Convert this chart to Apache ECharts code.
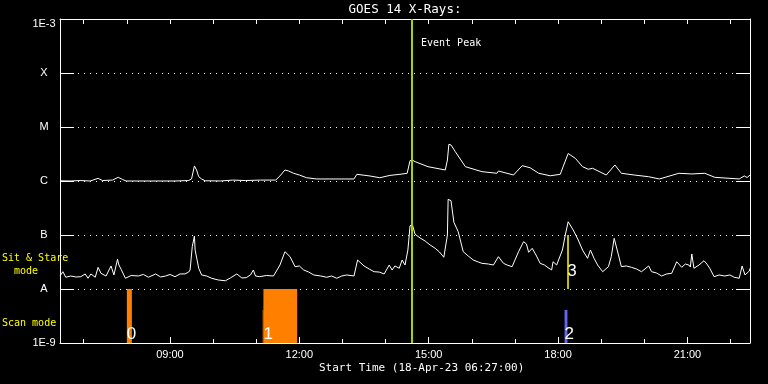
<!DOCTYPE html>
<html><head><meta charset="utf-8">
<script src="https://cdn.jsdelivr.net/npm/echarts@6/dist/echarts.min.js"></script>
<style>html,body{margin:0;padding:0;background:#000}#c{width:768px;height:384px}</style>
</head><body><div id="c"></div>
<script>
// ---------- data ----------
const START_TIME = '06:27';
const END_TIME = '22:27';
const TITLE = 'GOES 14 X-Rays:';
const X_TITLE = 'Start Time (18-Apr-23 06:27:00)';
const MAJOR_HOURS = [9, 12, 15, 18, 21];
const MINOR_HOURS = [7, 8, 10, 11, 13, 14, 16, 17, 19, 20, 22];
const Y_MIN = 1e-9, Y_MAX = 1e-3;
const Y_LABELS = {'-3': '1E-3', '-4': 'X', '-5': 'M', '-6': 'C', '-7': 'B', '-8': 'A', '-9': '1E-9'};

// GOES long channel (1-8 A)
const LONG_CHANNEL = [
 ['06:27',1.01e-6],['06:41',1.00e-6],['06:55',1.02e-6],['07:09',1.00e-6],['07:20',1.12e-6],['07:26',1.02e-6],
 ['07:40',1.04e-6],['07:48',1.17e-6],['07:54',1.07e-6],['07:59',1.00e-6],['08:33',1.00e-6],['09:07',1.00e-6],
 ['09:26',1.02e-6],['09:30',1.09e-6],['09:34',1.90e-6],['09:37',1.60e-6],['09:40',1.20e-6],['09:44',1.09e-6],
 ['09:49',1.01e-6],['10:10',1.00e-6],['10:27',1.04e-6],['10:45',1.02e-6],['11:06',1.04e-6],['11:27',1.04e-6],
 ['11:33',1.24e-6],['11:40',1.60e-6],['11:45',1.53e-6],['11:52',1.39e-6],['12:00',1.29e-6],['12:10',1.15e-6],
 ['12:24',1.09e-6],['12:51',1.09e-6],['13:16',1.09e-6],['13:20',1.33e-6],['13:38',1.24e-6],['13:52',1.15e-6],
 ['14:06',1.27e-6],['14:20',1.33e-6],['14:30',1.39e-6],['14:34',2.38e-6],['14:37',2.45e-6],['14:41',2.28e-6],
 ['14:59',1.84e-6],['15:23',1.60e-6],['15:26',2.45e-6],['15:28',4.78e-6],['15:31',4.64e-6],['15:37',3.49e-6],
 ['15:51',1.84e-6],['16:14',1.49e-6],['16:35',1.39e-6],['16:37',1.53e-6],['16:58',1.29e-6],['17:10',1.92e-6],
 ['17:21',1.76e-6],['17:33',1.39e-6],['17:49',1.25e-6],['18:03',1.33e-6],['18:07',1.84e-6],['18:14',3.23e-6],
 ['18:24',2.63e-6],['18:34',1.84e-6],['18:42',1.65e-6],['18:48',1.72e-6],['19:07',1.29e-6],['19:19',1.98e-6],
 ['19:28',1.39e-6],['19:46',1.29e-6],['20:06',1.20e-6],['20:21',1.09e-6],['20:48',1.39e-6],['21:06',1.35e-6],
 ['21:24',1.39e-6],['21:38',1.17e-6],['22:12',1.09e-6],['22:19',1.24e-6],['22:23',1.16e-6],['22:27',1.29e-6]
];

// GOES short channel (0.5-4 A)
const SHORT_CHANNEL = [
 ['06:27',1.74e-8],['06:28',1.82e-8],['06:31',2.09e-8],['06:35',1.65e-8],['06:42',1.74e-8],['06:49',1.67e-8],
 ['06:56',1.69e-8],['07:02',1.90e-8],['07:06',1.58e-8],['07:10',1.90e-8],['07:16',1.65e-8],['07:20',2.52e-8],
 ['07:24',1.95e-8],['07:31',1.74e-8],['07:38',2.67e-8],['07:42',1.82e-8],['07:47',3.55e-8],['07:49',2.78e-8],
 ['07:52',2.32e-8],['07:58',1.58e-8],['08:06',1.78e-8],['08:16',1.74e-8],['08:23',1.86e-8],['08:30',1.65e-8],
 ['08:40',1.90e-8],['08:47',1.67e-8],['08:54',1.74e-8],['09:00',1.86e-8],['09:07',1.69e-8],['09:14',1.90e-8],
 ['09:21',1.90e-8],['09:26',2.06e-8],['09:28',2.25e-8],['09:31',6.07e-8],['09:34',9.57e-8],['09:35',5.27e-8],
 ['09:40',2.42e-8],['09:44',1.82e-8],['09:51',1.74e-8],['09:58',1.58e-8],['10:07',1.47e-8],['10:17',1.42e-8],
 ['10:24',1.60e-8],['10:33',1.90e-8],['10:40',1.60e-8],['10:46',1.62e-8],['10:52',1.82e-8],['10:56',2.25e-8],
 ['10:59',1.74e-8],['11:05',1.69e-8],['11:14',1.78e-8],['11:24',1.74e-8],['11:33',2.78e-8],['11:40',4.91e-8],
 ['11:47',3.97e-8],['11:54',2.59e-8],['12:00',2.67e-8],['12:06',2.25e-8],['12:13',2.06e-8],['12:20',1.82e-8],
 ['12:30',1.74e-8],['12:38',1.65e-8],['12:45',1.74e-8],['12:52',1.58e-8],['12:59',1.74e-8],['13:06',1.82e-8],
 ['13:16',1.74e-8],['13:21',3.44e-8],['13:30',2.67e-8],['13:37',2.35e-8],['13:44',2.09e-8],['13:51',2.06e-8],
 ['13:58',1.90e-8],['14:05',2.78e-8],['14:09',2.25e-8],['14:13',2.67e-8],['14:19',2.42e-8],['14:23',3.44e-8],
 ['14:27',2.78e-8],['14:31',5.27e-8],['14:34',1.47e-7],['14:37',1.60e-7],['14:41',1.03e-7],['14:48',8.79e-8],
 ['14:55',7.74e-8],['15:02',6.52e-8],['15:09',5.67e-8],['15:15',4.84e-8],['15:21',3.87e-8],['15:26',1.00e-7],
 ['15:27',4.58e-7],['15:31',4.32e-7],['15:35',1.72e-7],['15:41',1.15e-7],['15:48',4.91e-8],['15:55',4.08e-8],
 ['16:02',3.44e-8],['16:09',3.16e-8],['16:14',2.99e-8],['16:23',2.90e-8],['16:30',2.78e-8],['16:37',3.97e-8],
 ['16:44',2.99e-8],['16:49',2.78e-8],['16:56',2.59e-8],['17:05',4.91e-8],['17:12',7.52e-8],['17:16',6.81e-8],
 ['17:19',4.78e-8],['17:24',5.67e-8],['17:30',4.08e-8],['17:35',2.99e-8],['17:41',2.78e-8],['17:46',2.48e-8],
 ['17:51',2.25e-8],['17:53',3.20e-8],['17:58',2.78e-8],['18:00',2.59e-8],['18:06',5.27e-8],['18:10',1.00e-7],
 ['18:14',1.76e-7],['18:21',1.24e-7],['18:28',8.07e-8],['18:34',5.27e-8],['18:41',3.70e-8],['18:45',5.27e-8],
 ['18:50',3.70e-8],['18:55',2.78e-8],['19:02',2.09e-8],['19:10',2.59e-8],['19:14',3.97e-8],['19:18',8.67e-8],
 ['19:24',4.26e-8],['19:28',2.59e-8],['19:35',2.67e-8],['19:42',2.52e-8],['19:49',2.35e-8],['19:56',2.09e-8],
 ['20:06',2.67e-8],['20:10',2.09e-8],['20:17',1.98e-8],['20:24',1.74e-8],['20:31',1.90e-8],['20:38',1.95e-8],
 ['20:45',3.20e-8],['20:52',2.52e-8],['20:57',2.90e-8],['21:02',2.78e-8],['21:04',2.55e-8],['21:06',4.45e-8],
 ['21:09',2.42e-8],['21:16',2.78e-8],['21:23',3.34e-8],['21:27',2.90e-8],['21:31',2.42e-8],['21:37',1.69e-8],
 ['21:44',1.82e-8],['21:52',1.74e-8],['21:59',1.82e-8],['22:05',1.65e-8],['22:12',1.58e-8],['22:16',2.67e-8],
 ['22:20',1.82e-8],['22:26',2.15e-8],['22:27',2.42e-8]
];

const EVENT_PEAK = '14:37';
const EVENT_LABEL = 'Event Peak';
// scan mode intervals: start, end, top level, label
const SCAN_MODE = [
 {start:'08:00', end:'08:07', top:1e-8, label:'0'},
 {start:'11:09', end:'11:10', top:4.1e-9, label:''},
 {start:'11:10', end:'11:57', top:1e-8, label:'1'},
 {start:'18:09', end:'18:13', top:4.1e-9, label:'2'}
];
const SCAN_COLORS = ['#ff8000', '#ff8000', '#ff8000', '#6464f0'];
// sit & stare observations: time, from level, to level, label
const SIT_STARE = [{time:'18:14', low:1e-8, high:1e-7, label:'3'}];

// ---------- helpers ----------
function hr(t){ const p=t.split(':').map(Number); return p[0]+p[1]/60+(p[2]||0)/3600; }
function pad(n){ return (n<10?'0':'')+n; }
const X_MIN = hr(START_TIME), X_MAX = hr(END_TIME);
const ALL_HOURS = MAJOR_HOURS.concat(MINOR_HOURS).sort((a,b)=>a-b);
const WHITE = '#ffffff', YEL = '#ffff00';
const MONO = '"DejaVu Sans Mono", monospace';
const SANS = '"Liberation Sans", Arial, sans-serif';

const chart = echarts.init(document.getElementById('c'), null, {renderer:'canvas'});

const scanAreas = SCAN_MODE.map((s,i)=>[
  {xAxis:hr(s.start), yAxis:Y_MIN, itemStyle:{color:SCAN_COLORS[i], opacity:1},
   label:{show:!!s.label, formatter:s.label, position:'insideBottomLeft', distance:0,
          color:WHITE, fontFamily:SANS, fontSize:17}},
  {xAxis:hr(s.end), yAxis:s.top}
]);
const stareAreas = SIT_STARE.map(s=>[
  {xAxis:hr(s.time), yAxis:s.low, itemStyle:{color:'rgba(0,0,0,0)'},
   label:{show:true, formatter:s.label, position:'insideBottomLeft', distance:0, offset:[-1,-9],
          color:WHITE, fontFamily:SANS, fontSize:17}},
  {xAxis:hr(s.time)+0.1, yAxis:s.high}
]);

const option = {
  backgroundColor:'#000',
  animation:false,
  grid:{left:60, top:19, width:690, height:324, show:false, containLabel:false, outerBoundsMode:'none'},
  xAxis:[
    {type:'value', position:'bottom', min:X_MIN, max:X_MAX,
     axisLine:{show:true, lineStyle:{color:WHITE, width:1}},
     axisTick:{show:true, inside:true, length:6, customValues:MAJOR_HOURS, lineStyle:{color:WHITE, width:1}},
     axisLabel:{show:true, customValues:MAJOR_HOURS, formatter:v=>pad(Math.round(v))+':00',
                color:WHITE, fontFamily:SANS, fontSize:11, margin:6},
     splitLine:{show:false}},
    {type:'value', position:'bottom', min:X_MIN, max:X_MAX,
     axisLine:{show:false},
     axisTick:{show:true, inside:true, length:4, customValues:MINOR_HOURS, lineStyle:{color:WHITE, width:1}},
     axisLabel:{show:false}, splitLine:{show:false}},
    {type:'value', position:'top', min:X_MIN, max:X_MAX,
     axisLine:{show:true, lineStyle:{color:WHITE, width:1}},
     axisTick:{show:true, inside:true, length:5, customValues:ALL_HOURS, lineStyle:{color:WHITE, width:1}},
     axisLabel:{show:false}, splitLine:{show:false}}
  ],
  yAxis:[
    {type:'log', logBase:10, min:Y_MIN, max:Y_MAX, position:'left', splitNumber:6,
     axisLine:{show:true, lineStyle:{color:WHITE, width:1}},
     axisTick:{show:true, inside:true, length:14, lineStyle:{color:WHITE, width:1}},
     axisLabel:{show:true, color:WHITE, fontFamily:SANS, fontSize:11, align:'center', margin:16,
       formatter:v=>{ const e=Math.round(Math.log10(v)); const s=Y_LABELS[String(e)]||''; return e===-3?'{t|'+s+'}':s; },
       rich:{t:{color:WHITE, fontFamily:SANS, fontSize:11, padding:[9,0,0,0]}}},
     splitLine:{show:true, lineStyle:{color:WHITE, width:1, type:[1,5]}}},
    {type:'log', logBase:10, min:Y_MIN, max:Y_MAX, position:'right', splitNumber:6,
     axisLine:{show:true, lineStyle:{color:WHITE, width:1}},
     axisTick:{show:true, inside:true, length:14, lineStyle:{color:WHITE, width:1}},
     axisLabel:{show:false}, splitLine:{show:false}}
  ],
  series:[
    {name:'long', type:'line', xAxisIndex:0, yAxisIndex:0, showSymbol:false, silent:true, z:3,
     lineStyle:{color:WHITE, width:1}, data:LONG_CHANNEL.map(d=>[hr(d[0]), d[1]])},
    {name:'short', type:'line', xAxisIndex:0, yAxisIndex:0, showSymbol:false, silent:true, z:3,
     lineStyle:{color:WHITE, width:1}, data:SHORT_CHANNEL.map(d=>[hr(d[0]), d[1]])},
    {name:'markers', type:'line', xAxisIndex:0, yAxisIndex:0, data:[], silent:true, z:5,
     markArea:{silent:true, data:scanAreas.concat(stareAreas)},
     markLine:{silent:true, symbol:['none','none'], label:{show:false},
       data:[
         [{xAxis:hr(EVENT_PEAK), yAxis:Y_MIN, lineStyle:{color:'#a8d400', width:2, type:'solid'}},
          {xAxis:hr(EVENT_PEAK), yAxis:Y_MAX}]
       ].concat(SIT_STARE.map(s=>[
          {xAxis:hr(s.time), yAxis:s.low, lineStyle:{color:YEL, width:1.5, type:'solid'}},
          {xAxis:hr(s.time), yAxis:s.high}]))
     }}
  ],
  graphic:[
    {type:'text', x:405, y:10, style:{text:TITLE, fill:WHITE, font:'12.5px '+MONO, textAlign:'center', textVerticalAlign:'middle'}},
    {type:'text', x:319, y:368.5, style:{text:X_TITLE, fill:WHITE, font:'11px '+MONO, textAlign:'left', textVerticalAlign:'middle'}},
    {type:'text', x:421, y:43, style:{text:EVENT_LABEL, fill:WHITE, font:'10px '+MONO, textAlign:'left', textVerticalAlign:'middle'}},
    {type:'text', x:2, y:258.5, style:{text:'Sit & Stare', fill:YEL, font:'10px '+MONO, textAlign:'left', textVerticalAlign:'middle'}},
    {type:'text', x:2, y:271, style:{text:'  mode', fill:YEL, font:'10px '+MONO, textAlign:'left', textVerticalAlign:'middle'}},
    {type:'text', x:2, y:323, style:{text:'Scan mode', fill:YEL, font:'10px '+MONO, textAlign:'left', textVerticalAlign:'middle'}}
  ]
};
chart.setOption(option);
</script>
</body></html>
